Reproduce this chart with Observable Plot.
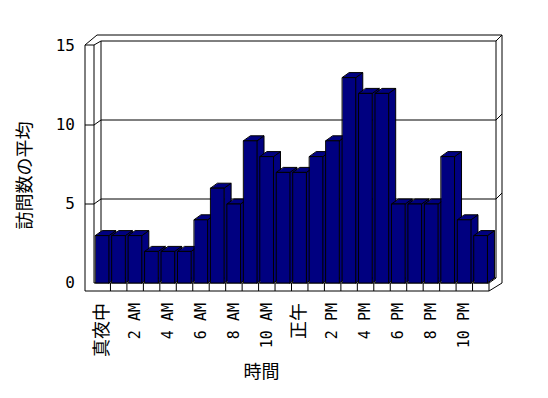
<!DOCTYPE html>
<html><head><meta charset="utf-8">
<script src="https://cdn.jsdelivr.net/npm/d3@7"></script>
<script src="https://cdn.jsdelivr.net/npm/@observablehq/plot@0.6"></script>
<style>body{margin:0;background:#fff}</style>
</head><body><div id="chart"></div>
<script>
// ---- data ----
const hours = d3.range(24);
const visits = [3,3,3,2,2,2,4,6,5,9,8,7,7,8,9,13,12,12,5,5,5,8,4,3];
const yTicks = [0,5,10,15];
const gridValues = [5,10];
const xTickHours = [0,2,4,6,8,10,12,14,16,18,20,22];
const xTickLabels = ["真夜中","2 AM","4 AM","6 AM","8 AM","10 AM","正午","2 PM","4 PM","6 PM","8 PM","10 PM"];
const xTitle = "時間";
const yTitle = "訪問数の平均";

// ---- 3D geometry (in data units) ----
const W = 548, H = 398;
const x0px = 93.5, x1px = 488.5, yTopPx = 45.5, yBotPx = 282.5;
const pxX = (x1px - x0px) / 24, pxY = (yBotPx - yTopPx) / 15;
const DX = 7 / pxX, DY = 5 / pxY;          // depth offset
const LW = 9 / pxX;                          // left wall thickness
const FL = 8 / pxY;                          // floor thickness
const BX = 6 / pxX, BY = 6 / pxY;            // back wall thickness
const TOP = 15 + 1 / pxY;
const BAR0 = 1.6 / pxX, BARW = 13.3 / pxX;
const N = hours.length;

const segs = [];
const seg = (a, b, c, d) => segs.push({x1: a, y1: b, x2: c, y2: d});
// left wall
seg(-LW, -FL, -LW, TOP);
seg(0, 0, 0, TOP);
seg(-LW, TOP, 0, TOP);
seg(0, TOP, DX, 15 + DY);
seg(-LW, TOP, DX - 4 / pxX, 15 + DY + BY);
// back wall
seg(DX, DY, DX, 15 + DY);
seg(DX, 15 + DY, N + DX, 15 + DY);
seg(N + DX, DY, N + DX, 15 + DY);
seg(DX - 4 / pxX, 15 + DY + BY, N + DX + BX, 15 + DY + BY);
seg(N + DX + BX, 15 + DY + BY, N + DX + BX, 0);
seg(N + DX, 15 + DY, N + DX + BX, 15 + DY + BY);
for (const v of gridValues) {
  seg(DX, v + DY, N + DX, v + DY);
  seg(-LW, v, 0, v);
  seg(0, v, DX, v + DY);
  seg(N + DX, v + DY, N + DX + BX, v + DY + BY);
}
// floor
seg(DX, DY, N + DX, DY);
seg(0, 0, N, 0);
seg(-LW, -FL, N, -FL);
seg(N, 0, N, -FL);
seg(N, 0, N + DX, DY);
seg(N, -FL, N + DX + BX, 0);
for (let k = 1; k < N; k++) seg(k, 0, k, -FL);

// bar faces as polygons, drawn bar by bar
const polys = [];
hours.forEach((h, i) => {
  const v = visits[i];
  const a = h + BAR0, b = a + BARW;
  const faces = {
    side: [[b, 0], [b + DX, DY], [b + DX, v + DY], [b, v]],
    top: [[a, v], [b, v], [b + DX, v + DY], [a + DX, v + DY]],
    front: [[a, 0], [b, 0], [b, v], [a, v]]
  };
  for (const [name, pts] of Object.entries(faces))
    for (const [x, y] of pts) polys.push({id: `${i}-${name}`, x, y});
});

const font = "'DejaVu Sans Mono', 'Noto Sans CJK JP', monospace";
const isCJK = s => /[\u3000-\u9fff]/.test(s);

const chart = Plot.plot({
  width: W, height: H,
  marginLeft: x0px, marginRight: W - x1px,
  marginTop: yTopPx, marginBottom: H - yBotPx,
  x: {domain: [0, 24], axis: null},
  y: {domain: [0, 15], axis: null},
  style: {background: "#fff", fontFamily: font, color: "#000"},
  marks: [
    Plot.link(segs, {x1: "x1", y1: "y1", x2: "x2", y2: "y2", stroke: "#000", strokeWidth: 1}),
    Plot.line(polys, {x: "x", y: "y", z: "id", fill: "#000080", stroke: "#000", strokeWidth: 1, curve: "linear-closed"}),
    Plot.text(yTicks, {x: -LW, y: d => d, text: d => String(d), textAnchor: "end", dx: -10, fontSize: 16, fill: "#000"}),
    Plot.text(xTickHours, {x: d => d + 0.5, y: -FL, text: (d, i) => xTickLabels[i], rotate: -90, textAnchor: "end", dy: 12,
      fontSize: (d, i) => isCJK(xTickLabels[i]) ? 18 : 15, fill: "#000"}),
    Plot.text([xTitle], {frameAnchor: "bottom", dx: -30, dy: 95, fontSize: 18, fill: "#000"}),
    Plot.text([yTitle], {frameAnchor: "left", textAnchor: "middle", dx: -69, dy: 11, rotate: -90, fontSize: 18, fill: "#000"})
  ]
});
document.getElementById("chart").appendChild(chart);
</script>
</body></html>
